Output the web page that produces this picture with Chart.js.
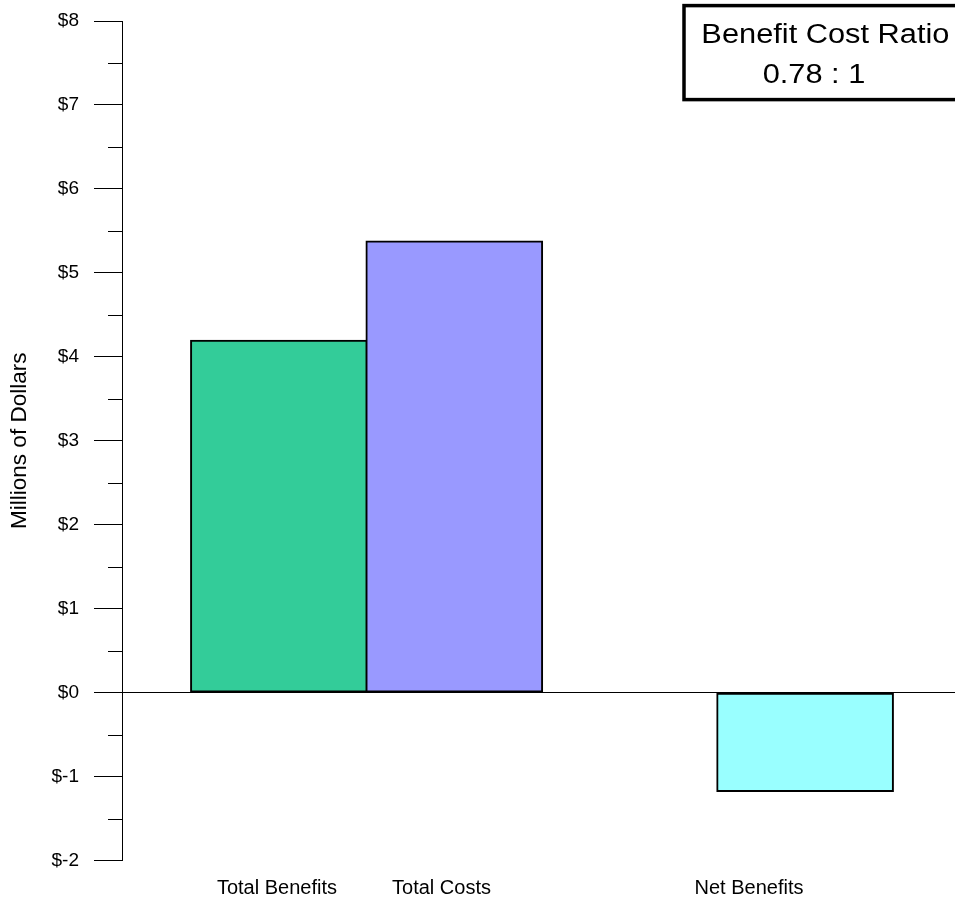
<!DOCTYPE html>
<html>
<head>
<meta charset="utf-8">
<title>Benefit Cost Ratio</title>
<script src="https://cdn.jsdelivr.net/npm/chart.js@4/dist/chart.umd.min.js"></script>
<style>
  html, body { margin: 0; padding: 0; background: #fff; }
  canvas { display: block; }
</style>
</head>
<body>
<canvas id="chart" width="955" height="898"></canvas>
<script>
// Benefit / cost summary, millions of dollars
const categories = ['Total Benefits', 'Total Costs', 'Net Benefits'];
const valuesMillions = [4.20, 5.38, -1.18];
const barColors = ['#33CC99', '#9999FF', '#99FFFF'];
const yTickValues = [-2, -1, 0, 1, 2, 3, 4, 5, 6, 7, 8];

// Slot on the x scale for each bar, and where each category label sits
const barSlots = [1, 2, 4];
const labelSlots = [0.989, 1.927, 3.680];

const FONT = '"Liberation Sans", Arial, Helvetica, sans-serif';
Chart.defaults.font.family = FONT;
Chart.defaults.color = '#000';

const ratioText = (valuesMillions[0] / valuesMillions[1]).toFixed(2) + ' : 1';

// Minor half-unit ticks on the value axis and the ratio box
const decorations = {
  id: 'decorations',
  afterDraw(chart) {
    const { ctx, chartArea, scales: { y } } = chart;
    ctx.save();
    ctx.strokeStyle = '#000';
    ctx.lineWidth = 1;
    ctx.beginPath();
    for (let v = y.min + 0.5; v < y.max; v += 1) {
      const py = Math.round(y.getPixelForValue(v)) + 0.5;
      ctx.moveTo(chartArea.left - 14, py);
      ctx.lineTo(chartArea.left, py);
    }
    ctx.stroke();

    // ratio box in the top-right corner
    ctx.lineWidth = 3.5;
    ctx.strokeRect(684, 5.6, 320, 94);
    ctx.fillStyle = '#000';
    ctx.font = '27px ' + FONT;
    ctx.textAlign = 'center';
    ctx.textBaseline = 'alphabetic';
    [['Benefit Cost Ratio', 825.4, 43.3], [ratioText, 814, 83.3]].forEach(([t, x, yb]) => {
      ctx.save();
      ctx.translate(x, yb);
      ctx.scale(1.14, 1);
      ctx.fillText(t, 0, 0);
      ctx.restore();
    });
    ctx.restore();
  }
};

new Chart(document.getElementById('chart'), {
  type: 'bar',
  data: {
    datasets: [{
      data: barSlots.map((s, i) => ({ x: s, y: valuesMillions[i] })),
      backgroundColor: barColors,
      borderColor: '#000',
      borderWidth: 2,
      borderSkipped: false,
      barThickness: 177
    }]
  },
  options: {
    responsive: false,
    animation: false,
    devicePixelRatio: 1,
    layout: { padding: { top: 21, left: 0, right: 0, bottom: 0 } },
    plugins: {
      legend: { display: false },
      tooltip: { enabled: false }
    },
    scales: {
      x: {
        type: 'linear',
        offset: false,
        min: 0.1055,
        max: 4.8546,
        grid: { display: false, drawTicks: false, offset: false },
        border: { display: false },
        afterBuildTicks: (scale) => {
          scale.ticks = labelSlots.map(v => ({ value: v }));
        },
        afterFit: (scale) => {
          scale.height = 37.5;
          scale.paddingLeft = 0;
          scale.paddingRight = 0;
        },
        ticks: {
          autoSkip: false,
          maxRotation: 0,
          padding: 16,
          font: { size: 20 },
          color: '#000',
          callback: (v, i) => categories[i]
        }
      },
      y: {
        min: yTickValues[0],
        max: yTickValues[yTickValues.length - 1],
        afterBuildTicks: (scale) => {
          scale.ticks = yTickValues.map(v => ({ value: v }));
        },
        afterFit: (scale) => {
          scale.width = 122;
          scale.paddingTop = 0;
          scale.paddingBottom = 0;
        },
        grid: {
          drawOnChartArea: true,
          color: (c) => (c.tick && c.tick.value === 0 ? '#000' : 'rgba(0,0,0,0)'),
          tickColor: '#000',
          tickLength: 28,
          lineWidth: 1
        },
        border: { display: true, color: '#000', width: 1 },
        ticks: {
          padding: 15,
          font: { size: 19 },
          color: '#000',
          callback: (v) => '$' + v
        },
        title: {
          display: true,
          text: 'Millions of Dollars',
          font: { size: 22.5 },
          color: '#000',
          padding: { top: 6, bottom: 0 }
        }
      }
    }
  },
  plugins: [decorations]
});
</script>
</body>
</html>
